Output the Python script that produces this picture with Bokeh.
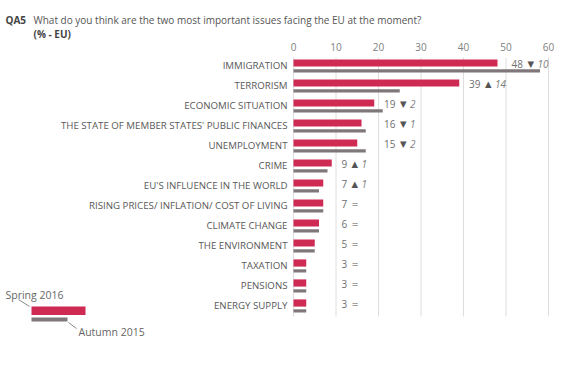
import math
from bokeh.plotting import figure
from bokeh.models import Range1d
from bokeh.core.properties import value
from bokeh.embed import file_html
from bokeh.resources import INLINE

# ---- data ----
categories = ["IMMIGRATION", "TERRORISM", "ECONOMIC SITUATION",
              "THE STATE OF MEMBER STATES' PUBLIC FINANCES", "UNEMPLOYMENT",
              "CRIME", "EU'S INFLUENCE IN THE WORLD",
              "RISING PRICES/ INFLATION/ COST OF LIVING", "CLIMATE CHANGE",
              "THE ENVIRONMENT", "TAXATION", "PENSIONS", "ENERGY SUPPLY"]
spring_2016 = [48, 39, 19, 16, 15, 9, 7, 7, 6, 5, 3, 3, 3]
autumn_2015 = [58, 25, 21, 17, 17, 8, 6, 7, 6, 5, 3, 3, 3]
x_ticks = [0, 10, 20, 30, 40, 50, 60]
legend_labels = ["Spring 2016", "Autumn 2015"]
title_code = "QA5"
title_text = "What do you think are the two most important issues facing the EU at the moment?"
title_unit = "(% - EU)"

RED = "#cf2a54"
GREY = "#7f777a"
FONT = "Open Sans"

W, H = 576, 357
X0_PX = 293         # canvas x of value 0
PX_PER_UNIT = 4.25
ROW_PX = 20
ROW0_PX = 65        # canvas y of first row centre


def px2x(px):
    return (px - X0_PX) / PX_PER_UNIT


def py2y(py):
    return (py - ROW0_PX) / ROW_PX


p = figure(width=W, height=H, output_backend="svg", toolbar_location=None,
           x_axis_location=None, y_axis_location=None,
           x_range=Range1d(px2x(0), px2x(W)), y_range=Range1d(py2y(H), py2y(0)),
           min_border=0)
p.outline_line_color = None
p.grid.visible = False
p.background_fill_color = "white"
p.border_fill_color = "white"

n = len(categories)
rows = list(range(n))

# x scale tick labels and gridlines
p.text(x=x_ticks, y=[py2y(46)] * len(x_ticks), text=[str(t) for t in x_ticks],
       text_align="center", text_baseline="middle", text_font=value(FONT),
       text_font_size="10px", text_color="#808080")
p.segment(x0=x_ticks, x1=x_ticks, y0=[py2y(57)] * len(x_ticks),
          y1=[py2y(316)] * len(x_ticks), line_color="#dedede", line_width=1)

# bars
p.hbar(y=[r - 0.125 for r in rows], left=0, right=spring_2016, height=0.36,
       fill_color=RED, line_color=None)
p.hbar(y=[r + 0.27 for r in rows], left=0, right=autumn_2015, height=0.16,
       fill_color=GREY, line_color=None)

# category labels
p.text(x=[px2x(287)] * n, y=rows, text=categories, text_align="right",
       text_baseline="middle", text_font=value(FONT), text_font_size="9.7px",
       text_color="#585858")

# value labels
lab_x, val_txt, arr_txt, arr_off, chg_txt, chg_off = [], [], [], [], [], []
for s, a in zip(spring_2016, autumn_2015):
    lab_x.append(math.ceil(s / 10) * 10 + 1.3)
    val_txt.append(str(s))
    d = s - a
    arr_txt.append("▼" if d < 0 else ("▲" if d > 0 else "="))
    w = 6 * len(str(s))
    arr_off.append(w + 4)
    chg_txt.append(str(abs(d)) if d != 0 else "")
    chg_off.append(w + 14)

p.text(x=lab_x, y=rows, text=val_txt, text_baseline="middle",
       text_font=value(FONT), text_font_size="10px", text_color="#707070",
       y_offset=-2)
p.text(x=lab_x, y=rows, text=arr_txt, x_offset=arr_off, text_baseline="middle",
       text_font=value("DejaVu Sans"), text_font_size="8.5px", text_color="#555555",
       y_offset=-2)
p.text(x=lab_x, y=rows, text=chg_txt, x_offset=chg_off, text_baseline="middle",
       text_font=value(FONT), text_font_size="10px", text_font_style="italic",
       text_color="#808080", y_offset=-2)

# title
p.text(x=[px2x(5)], y=[py2y(19)], text=[title_code], text_baseline="middle",
       text_font=value(FONT), text_font_size="10px", text_font_style="bold",
       text_color="#444444")
p.text(x=[px2x(33)], y=[py2y(19)], text=[title_text], text_baseline="middle",
       text_font=value(FONT), text_font_size="10px", text_color="#555555")
p.text(x=[px2x(33)], y=[py2y(33)], text=[title_unit], text_baseline="middle",
       text_font=value(FONT), text_font_size="10px", text_font_style="bold",
       text_color="#444444")

# legend
p.quad(left=[px2x(31)], right=[px2x(85)], top=[py2y(306)], bottom=[py2y(314.5)],
       fill_color=RED, line_color=None)
p.quad(left=[px2x(31)], right=[px2x(67)], top=[py2y(317)], bottom=[py2y(321)],
       fill_color=GREY, line_color=None)
p.segment(x0=[px2x(18), px2x(68)], y0=[py2y(299), py2y(322)],
          x1=[px2x(29), px2x(76)], y1=[py2y(306), py2y(328)],
          line_color="#888888", line_width=1)
p.text(x=[px2x(5), px2x(78)], y=[py2y(294), py2y(331)],
       text=legend_labels, text_baseline="middle",
       text_font=value(FONT), text_font_size="10.5px", text_color="#666666")

open("out.html", "w").write(file_html(p, INLINE))
